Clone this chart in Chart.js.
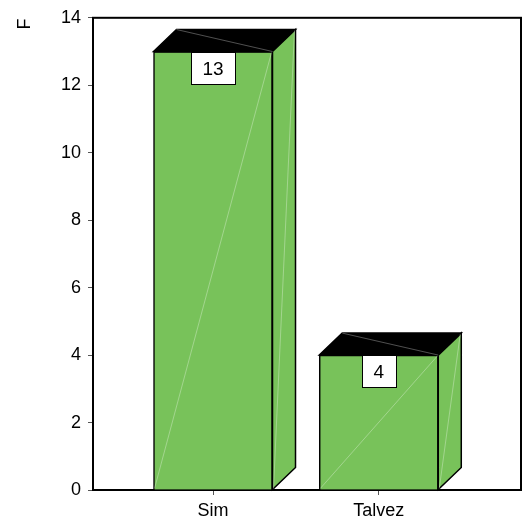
<!DOCTYPE html>
<html>
<head>
<meta charset="utf-8">
<script src="https://cdn.jsdelivr.net/npm/chart.js@4/dist/chart.umd.min.js"></script>
<style>
  html, body { margin: 0; padding: 0; background: #fff; }
  #wrap { width: 526px; height: 520px; }
</style>
</head>
<body>
<div id="wrap"><canvas id="chart"></canvas></div>
<script>
const categories = ['Sim', 'Talvez'];
const values = [13, 4];
const yTicks = [0, 2, 4, 6, 8, 10, 12, 14];
const yTitle = 'F';

const FONT = "Arial, 'Liberation Sans', sans-serif";
const GREEN = '#78c25a';

// fake 3D box: black top, green side, boxed value label
const box3d = {
    id: 'box3d',
    beforeDatasetsDraw(chart) {
        const { ctx, chartArea: a } = chart;
        ctx.save();
        ctx.strokeStyle = '#000';
        ctx.lineWidth = 2;
        ctx.strokeRect(a.left, a.top, a.right - a.left, a.bottom - a.top);
        ctx.restore();
    },
    afterDatasetsDraw(chart) {
        const ctx = chart.ctx;
        const meta = chart.getDatasetMeta(0);
        const dx = 23, dy = 22;
        meta.data.forEach((bar, i) => {
            const p = bar.getProps(['x', 'y', 'base', 'width'], true);
            const l = p.x - p.width / 2, r = p.x + p.width / 2;
            const t = p.y, b = p.base;
            ctx.save();
            ctx.lineWidth = 1.5;
            ctx.strokeStyle = '#000';
            ctx.lineJoin = 'miter';

            // top
            ctx.beginPath();
            ctx.moveTo(l, t);
            ctx.lineTo(l + dx, t - dy);
            ctx.lineTo(r + dx, t - dy);
            ctx.lineTo(r, t);
            ctx.closePath();
            ctx.fillStyle = '#000';
            ctx.fill();
            ctx.stroke();

            // side
            ctx.beginPath();
            ctx.moveTo(r, t);
            ctx.lineTo(r + dx, t - dy);
            ctx.lineTo(r + dx, b - dy);
            ctx.lineTo(r, b);
            ctx.closePath();
            ctx.fillStyle = GREEN;
            ctx.fill();
            ctx.stroke();

            // thin light diagonals
            ctx.lineWidth = 0.7;
            ctx.strokeStyle = 'rgba(255,255,255,0.45)';
            ctx.beginPath();
            ctx.moveTo(l + 1, b - 1);
            ctx.lineTo(r - 1, t + 1);
            ctx.moveTo(r + 1, b - 1);
            ctx.lineTo(r + dx - 1, t - dy + 1);
            ctx.moveTo(l + dx, t - dy);
            ctx.lineTo(r, t);
            ctx.stroke();

            // value label
            const txt = String(values[i]);
            ctx.font = '19px ' + FONT;
            const tw = ctx.measureText(txt).width;
            const bw = Math.round(tw + 23), bh = 32;
            const bx = Math.round(p.x - bw / 2) + 0.5, by = Math.round(t) + 0.5;
            ctx.fillStyle = '#fff';
            ctx.fillRect(bx, by, bw, bh);
            ctx.lineWidth = 1;
            ctx.strokeStyle = '#000';
            ctx.strokeRect(bx, by, bw, bh);
            ctx.fillStyle = '#000';
            ctx.textAlign = 'center';
            ctx.textBaseline = 'middle';
            ctx.fillText(txt, p.x, by + bh / 2 + 1);
            ctx.restore();
        });

        // axis title
        ctx.save();
        ctx.font = '18px ' + FONT;
        ctx.fillStyle = '#000';
        ctx.translate(25, 24);
        ctx.rotate(-Math.PI / 2);
        ctx.textAlign = 'center';
        ctx.textBaseline = 'middle';
        ctx.fillText(yTitle, 0, 0);
        ctx.restore();
    }
};

new Chart(document.getElementById('chart'), {
    type: 'bar',
    data: {
        datasets: [{
            data: values.map((v, i) => ({ x: i, y: v })),
            backgroundColor: GREEN,
            borderColor: '#000',
            borderWidth: 1.5,
            barThickness: 119
        }]
    },
    options: {
        responsive: true,
        maintainAspectRatio: false,
        animation: false,
        devicePixelRatio: 1,
        layout: { padding: { top: 16, right: 5, left: 0, bottom: 0 } },
        plugins: {
            legend: { display: false },
            tooltip: { enabled: false }
        },
        scales: {
            x: {
                type: 'linear',
                offset: false,
                min: -0.724,
                max: 1.858,
                afterBuildTicks: s => { s.ticks = categories.map((c, i) => ({ value: i })); },
                afterFit: s => { s.height = 30; },
                ticks: {
                    callback: v => categories[v],
                    font: { family: FONT, size: 18 },
                    color: '#000',
                    padding: 5,
                    maxRotation: 0
                },
                grid: { display: true, offset: false, drawOnChartArea: false, tickLength: 5, color: '#555' },
                border: { display: false }
            },
            y: {
                min: 0,
                max: 14,
                afterBuildTicks: s => { s.ticks = yTicks.map(v => ({ value: v })); },
                afterFit: s => { s.width = 93; },
                ticks: {
                    font: { family: FONT, size: 18 },
                    color: '#000',
                    padding: 7
                },
                grid: { display: true, drawOnChartArea: false, tickLength: 5, color: '#555' },
                border: { display: false }
            }
        }
    },
    plugins: [box3d]
});
</script>
</body>
</html>
